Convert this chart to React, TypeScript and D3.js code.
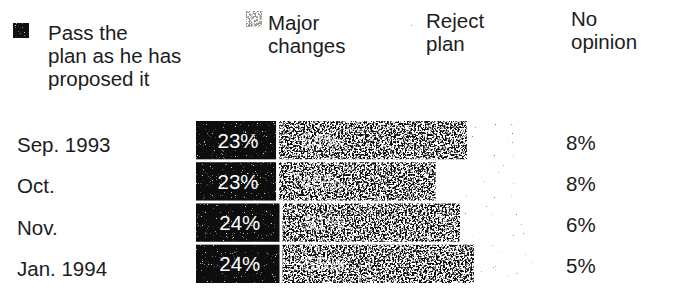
import { useRef, useEffect } from "react";
import * as d3 from "d3";

// survey rows and values (percent)
const periods = ["Sep. 1993", "Oct.", "Nov.", "Jan. 1994"];
const passAsProposed = [23, 23, 24, 24];
const majorChanges = [54, 45, 51, 55];
const rejectPlan = [15, 24, 19, 16];
const noOpinion = [8, 8, 6, 5];

const legendLines = [
  ["Pass the", "plan as he has", "proposed it"],
  ["Major", "changes"],
  ["Reject", "plan"],
  ["No", "opinion"],
];

const FONT = "'Liberation Sans', Arial, Helvetica, sans-serif";
const INK = "#1c1c1c";
const FS = 20.5;

const App: React.FC = () => {
  const svgRef = useRef<SVGSVGElement | null>(null);

  useEffect(() => {
    if (!svgRef.current) return;
    const svg = d3.select(svgRef.current);
    svg.selectAll("*").remove();

    const width = 684;
    const height = 299;
    svg.attr("width", width).attr("height", height);

    const defs = svg.append("defs");

    // speckled "newsprint" fills
    const makeGrain = (id: string, freq: number, seed: number, k: number, b: number, color: string) => {
      const f = defs
        .append("filter")
        .attr("id", id)
        .attr("x", 0)
        .attr("y", 0)
        .attr("width", 1)
        .attr("height", 1)
        .attr("color-interpolation-filters", "sRGB");
      f.append("feTurbulence")
        .attr("type", "fractalNoise")
        .attr("baseFrequency", freq)
        .attr("numOctaves", 4)
        .attr("seed", seed)
        .attr("result", "noise");
      f.append("feColorMatrix")
        .attr("in", "noise")
        .attr("type", "matrix")
        .attr("values", `0 0 0 0 ${color} 0 0 0 0 ${color} 0 0 0 0 ${color} ${k} 0 0 0 ${b}`)
        .attr("result", "ink");
      f.append("feComposite").attr("in", "ink").attr("in2", "SourceAlpha").attr("operator", "in");
    };
    makeGrain("grainMajor", 0.55, 4, -8, 4.4, "0.05");
    makeGrain("grainReject", 0.9, 9, -14, 3.0, "0.45");
    makeGrain("grainPass", 1.1, 2, 9, -6.3, "0.85");

    const left = 196;
    const gap = 3;
    const x = d3.scaleLinear().domain([0, 100]).range([0, 348]);
    const y = d3.scaleBand<string>().domain(periods).range([121, 283]).paddingInner(0.07);

    const root = svg.append("g").attr("font-family", FONT);

    // legend
    const legendX = [48, 268, 426, 571];
    const legendY = [40, 30, 28, 26];
    legendLines.forEach((lines, i) => {
      const t = root
        .append("text")
        .attr("x", legendX[i])
        .attr("y", legendY[i])
        .attr("font-size", FS)
        .attr("fill", INK);
      lines.forEach((ln, j) => {
        t.append("tspan").attr("x", legendX[i]).attr("dy", j === 0 ? 0 : 23).text(ln);
      });
    });
    // legend swatches
    root.append("rect").attr("x", 13).attr("y", 23).attr("width", 16).attr("height", 15).attr("fill", "#111");
    root
      .append("rect")
      .attr("x", 13)
      .attr("y", 23)
      .attr("width", 16)
      .attr("height", 15)
      .attr("fill", "#fff")
      .attr("filter", "url(#grainPass)");
    root
      .append("rect")
      .attr("x", 246)
      .attr("y", 11)
      .attr("width", 16)
      .attr("height", 16)
      .attr("fill", "#fff")
      .attr("filter", "url(#grainMajor)")
      .attr("opacity", 0.45);
    root
      .append("rect")
      .attr("x", 405)
      .attr("y", 11)
      .attr("width", 16)
      .attr("height", 16)
      .attr("fill", "#fff")
      .attr("filter", "url(#grainReject)");

    // row labels
    root
      .selectAll("text.row")
      .data(periods)
      .join("text")
      .attr("class", "row")
      .attr("x", 17)
      .attr("y", (d) => (y(d) as number) + y.bandwidth() / 2 + 12)
      .attr("font-size", FS)
      .attr("fill", INK)
      .text((d) => d);

    const bw = y.bandwidth();

    periods.forEach((p, i) => {
      const y0 = y(p) as number;
      const vals = [passAsProposed[i], majorChanges[i], rejectPlan[i]];
      let cum = 0;
      vals.forEach((v, s) => {
        const x0 = left + x(cum) + s * gap;
        const w = x(v);
        cum += v;
        if (s === 0) {
          root.append("rect").attr("x", x0).attr("y", y0).attr("width", w).attr("height", bw).attr("fill", "#0d0d0d");
          root
            .append("rect")
            .attr("x", x0)
            .attr("y", y0)
            .attr("width", w)
            .attr("height", bw)
            .attr("fill", "#fff")
            .attr("filter", "url(#grainPass)");
          root
            .append("text")
            .attr("x", x0 + w / 2 + 2)
            .attr("y", y0 + bw / 2)
            .attr("dy", "0.36em")
            .attr("text-anchor", "middle")
            .attr("font-size", FS)
            .attr("fill", "#fff")
            .text(`${v}%`);
        } else if (s === 1) {
          root
            .append("rect")
            .attr("x", x0)
            .attr("y", y0)
            .attr("width", w)
            .attr("height", bw)
            .attr("fill", "#fff")
            .attr("filter", "url(#grainMajor)");
          root
            .append("text")
            .attr("x", x0 + 42)
            .attr("y", y0 + bw / 2)
            .attr("dy", "0.36em")
            .attr("text-anchor", "middle")
            .attr("font-size", FS)
            .attr("fill", "#fff")
            .attr("opacity", 0.7)
            .text(`${v}%`);
        } else {
          root
            .append("rect")
            .attr("x", x0)
            .attr("y", y0)
            .attr("width", w)
            .attr("height", bw)
            .attr("fill", "#fff")
            .attr("filter", "url(#grainReject)");
        }
      });

      // no opinion value
      root
        .append("text")
        .attr("x", 566)
        .attr("y", y0 + bw / 2 + 2)
        .attr("dy", "0.36em")
        .attr("font-size", FS)
        .attr("fill", INK)
        .text(`${noOpinion[i]}%`);
    });
  }, []);

  return (
    <div style={{ position: "absolute", left: 0, top: 0, background: "#fff" }}>
      <svg ref={svgRef} style={{ display: "block" }}></svg>
    </div>
  );
};

export default App;
